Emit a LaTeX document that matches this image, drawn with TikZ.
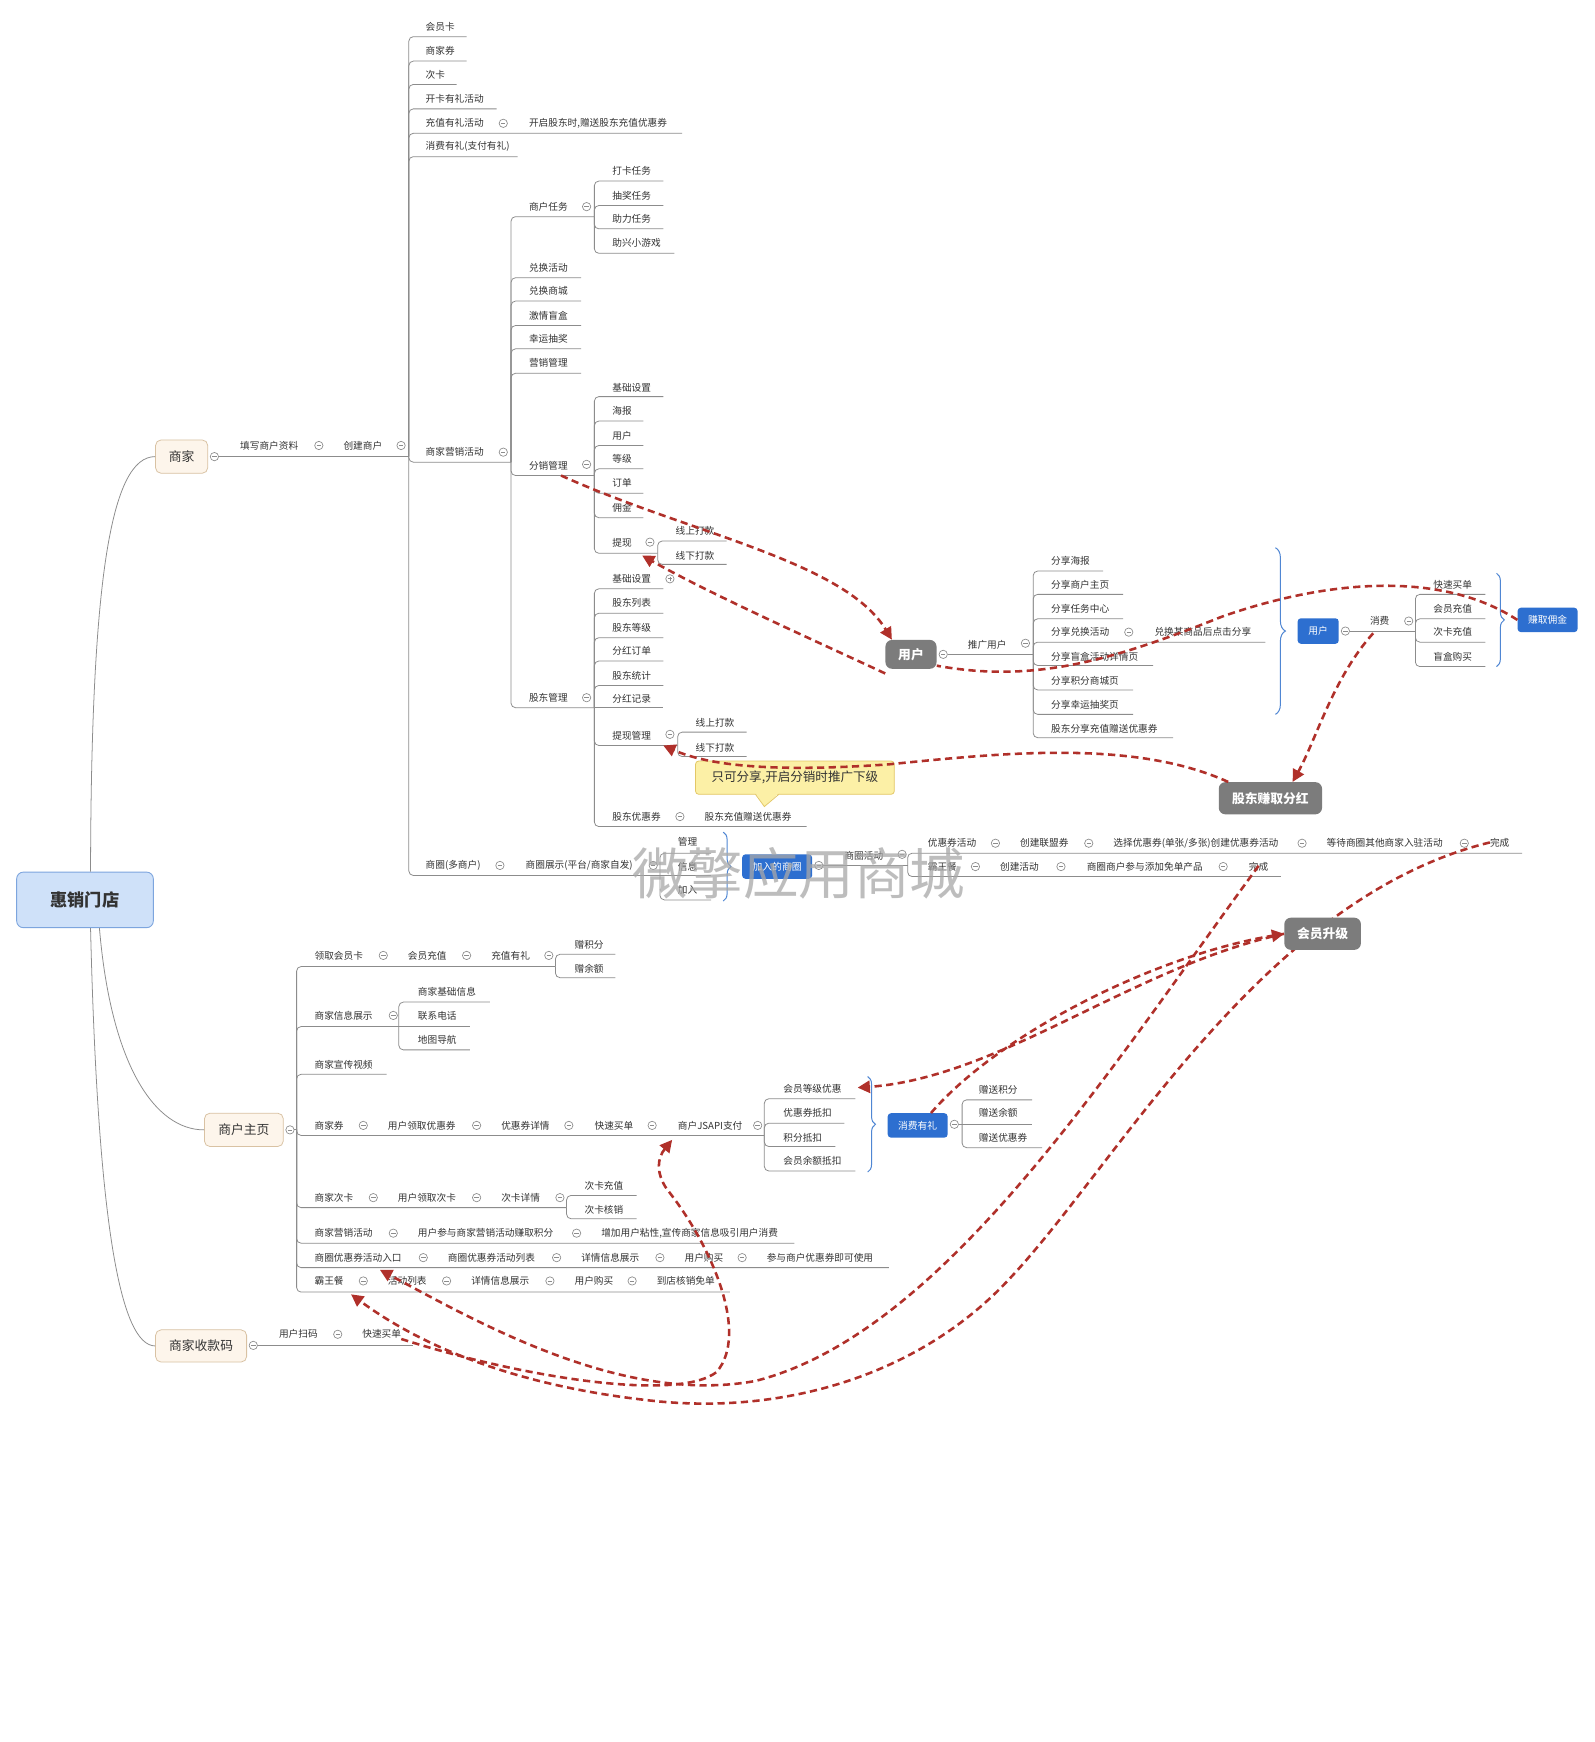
\documentclass[tikz,border=0pt]{standalone}
\usepackage{fontspec}
\newfontfamily\cjk{Noto Sans CJK SC}
\usetikzlibrary{arrows.meta,decorations.pathreplacing}
\definecolor{lnc}{HTML}{8C8C8C}
\definecolor{txc}{HTML}{333333}
\definecolor{relc}{HTML}{B0302A}
\definecolor{bluc}{HTML}{2D6FD0}
\definecolor{gryc}{HTML}{7C7C7C}
\definecolor{rootf}{HTML}{CFE1F9}
\definecolor{rootb}{HTML}{7DA5DE}
\definecolor{begf}{HTML}{FDF5EB}
\definecolor{begb}{HTML}{D9C2A3}
\definecolor{brc}{HTML}{4F86D3}
\definecolor{callf}{HTML}{FCF0A6}
\definecolor{callb}{HTML}{E3C766}
\definecolor{wmc}{HTML}{A8A8A8}
\tikzset{
 tp/.style={anchor=west, inner sep=0pt, font=\cjk\fontsize{8.7}{9}\selectfont, text=txc},
 cmin/.style={circle, draw=lnc, fill=white, minimum size=7.5pt, inner sep=0pt, line width=0.6pt,
   path picture={\draw[lnc,line width=0.6pt] ([xshift=-2pt]path picture bounding box.center) -- ([xshift=2pt]path picture bounding box.center);}},
 cplus/.style={circle, draw=lnc, fill=white, minimum size=7.5pt, inner sep=0pt, line width=0.6pt,
   path picture={\draw[lnc,line width=0.6pt] ([xshift=-2pt]path picture bounding box.center) -- ([xshift=2pt]path picture bounding box.center) ([yshift=-2pt]path picture bounding box.center) -- ([yshift=2pt]path picture bounding box.center);}},
 conn/.style={draw=lnc, line width=0.7pt, rounded corners=4pt},
 rootbox/.style={draw=rootb, fill=rootf, line width=0.8pt, rounded corners=6pt, minimum width=123pt, minimum height=50pt, inner sep=0pt, font=\cjk\bfseries\fontsize{15.5}{16}\selectfont, text=txc},
 mbox/.style={draw=begb, fill=begf, line width=0.7pt, rounded corners=5pt, minimum height=30pt, inner sep=0pt, font=\cjk\fontsize{11.5}{12}\selectfont, text=txc},
 gbox/.style={fill=gryc, rounded corners=6pt, minimum height=29pt, inner sep=0pt, font=\cjk\bfseries\fontsize{11.5}{12}\selectfont, text=white},
 bbox/.style={fill=bluc, rounded corners=3pt, minimum height=22pt, inner sep=0pt, font=\cjk\fontsize{8.8}{9}\selectfont, text=white},
 bracestyle/.style={draw=brc, line width=0.9pt, decorate, decoration={brace, amplitude=#1}},
 rel/.style={draw=relc, line width=2.3pt, dash pattern=on 6.5pt off 4pt},
 rela/.style={rel, -{Triangle[length=11pt,width=11pt]}},
}
\newcommand\tpc[3]{\node[tp] (#1) at #2 {#3};}
\newcommand\cmn[2]{\node[cmin] (#1) at #2 {};}
\newcommand\spn[3]{\foreach \yc/\xe in {#3}{\draw[conn] (#1,#2) -- (#1,\yc) -- (\xe,\yc);}}
\begin{document}
\begin{tikzpicture}[x=1pt,y=-1pt]
\useasboundingbox (0,0) rectangle (1435,1568);
\fill[white] (0,0) rectangle (1435,1568);

% ---------- main boxes ----------
\node[rootbox] (root) at (76.5,810) {惠销门店};
\node[mbox, minimum width=47pt] (sj) at (163.5,411) {商家};
\node[mbox, minimum width=71pt] (zy) at (219.5,1017) {商户主页};
\node[mbox, minimum width=82pt, minimum height=29pt] (sk) at (181,1211.5) {商家收款码};
\draw[lnc, line width=0.7pt] ([xshift=5pt]root.north) .. controls (82,520) and (100,411) .. (sj.west);
\draw[lnc, line width=0.7pt] ([xshift=13pt]root.south) .. controls (100,960) and (140,1017) .. (zy.west);
\draw[lnc, line width=0.7pt] ([xshift=5pt]root.south) .. controls (88,1100) and (108,1211) .. (sk.west);

% ---------- 商家 branch ----------
\cmn{csj}{(193,411)}
\draw[conn] (csj.east) -- (368,411);
\tpc{s1}{(216,401)}{填写商户资料} \cmn{cs1}{(287,401)}
\tpc{s2}{(309,401)}{创建商户} \cmn{cs2}{(361,401)}

\spn{368}{411}{33/420,55/420,76/411,98/447,120/614,141/466,416/460,788/594}
\tpc{a1}{(383,24)}{会员卡}
\tpc{a2}{(383,46)}{商家券}
\tpc{a3}{(383,67)}{次卡}
\tpc{a4}{(383,89)}{开卡有礼活动}
\tpc{a5}{(383,111)}{充值有礼活动} \cmn{ca5}{(453,111)}
\tpc{a5b}{(476,111)}{开启股东时,赠送股东充值优惠券}
\tpc{a6}{(383,132)}{消费有礼(支付有礼)}
\tpc{a7}{(383,407)}{商家营销活动} \cmn{ca7}{(453,407)}
\tpc{a8}{(383,779)}{商圈(多商户)} \cmn{ca8}{(450,779)}
\tpc{a8b}{(473,779)}{商圈展示(平台/商家自发)} \cmn{ca8b}{(588,779)}

\spn{460}{416}{195/535,250/523,271/523,293/523,314/523,336/523,428/535,637/535}
\tpc{b1}{(476,186)}{商户任务} \cmn{cb1}{(528,186)}
\tpc{b2}{(476,241)}{兑换活动}
\tpc{b3}{(476,262)}{兑换商城}
\tpc{b4}{(476,284)}{激情盲盒}
\tpc{b5}{(476,305)}{幸运抽奖}
\tpc{b6}{(476,327)}{营销管理}
\tpc{b7}{(476,419)}{分销管理} \cmn{cb7}{(528,418)}
\tpc{b8}{(476,628)}{股东管理} \cmn{cb8}{(528,628)}

\spn{535}{195}{163/597,185/597,206/597,228/607}
\tpc{c1}{(551,154)}{打卡任务}
\tpc{c2}{(551,176)}{抽奖任务}
\tpc{c3}{(551,197)}{助力任务}
\tpc{c4}{(551,219)}{助兴小游戏}

\spn{535}{428}{357/597,379/579,401/579,422/579,444/579,466/579,498/592}
\tpc{d1}{(551,349)}{基础设置}
\tpc{d2}{(551,370)}{海报}
\tpc{d3}{(551,392)}{用户}
\tpc{d4}{(551,413)}{等级}
\tpc{d5}{(551,435)}{订单}
\tpc{d6}{(551,457)}{佣金}
\tpc{d7}{(551,489)}{提现} \cmn{cd7}{(585,488)}

\spn{592}{498}{487/654,508/654}
\tpc{e1}{(608,478)}{线上打款}
\tpc{e2}{(608,500)}{线下打款}

\spn{535}{637}{530/597,552/597,574/597,595/597,617/597,671/610,744/726}
\draw[conn] (535,637) -- (597,637);
\tpc{f1}{(551,521)}{基础设置} \node[cplus] (cf1) at (603,521) {};
\tpc{f2}{(551,543)}{股东列表}
\tpc{f3}{(551,565)}{股东等级}
\tpc{f4}{(551,586)}{分红订单}
\tpc{f5}{(551,608)}{股东统计}
\tpc{f6}{(551,629)}{分红记录}
\tpc{f7}{(551,662)}{提现管理} \cmn{cf7}{(603,661)}
\tpc{f8}{(551,735)}{股东优惠券} \cmn{cf8}{(612,735)}
\tpc{f8b}{(634,735)}{股东充值赠送优惠券}

\spn{610}{671}{659/672,681/672}
\tpc{g1}{(626,651)}{线上打款}
\tpc{g2}{(626,673)}{线下打款}

% ---------- 商圈 ----------
\spn{594}{788}{768/640,810/640}
\draw[conn] (594,788) -- (640,788);
\tpc{h1}{(610,758)}{管理}
\tpc{h2}{(610,780)}{信息}
\tpc{h3}{(610,801)}{加入}
\draw[bracestyle=7pt] (651,749) -- (651,811);
\node[bbox, minimum width=63pt] (jr) at (699.5,780) {加入的商圈};
\cmn{cjr}{(737,779)}
\draw[conn] (cjr.east) -- (817,779);
\tpc{i0}{(760,770)}{商圈活动} \cmn{ci0}{(812,769)}
\spn{817}{779}{768/1370,789/1153}
\tpc{i1}{(835,759)}{优惠券活动} \cmn{ci1}{(896,759)}
\tpc{i2}{(918,759)}{创建联盟券} \cmn{ci2}{(980,759)}
\tpc{i3}{(1002,759)}{选择优惠券(单张/多张)创建优惠券活动} \cmn{ci3}{(1172,759)}
\tpc{i4}{(1194,759)}{等待商圈其他商家入驻活动} \cmn{ci4}{(1318,759)}
\tpc{i5}{(1341,759)}{完成}
\tpc{k1}{(835,780)}{霸王餐} \cmn{ck1}{(878,780)}
\tpc{k2}{(900,780)}{创建活动} \cmn{ck2}{(955,780)}
\tpc{k3}{(978,780)}{商圈商户参与添加免单产品} \cmn{ck3}{(1101,780)}
\tpc{k4}{(1124,780)}{完成}

% ---------- 用户 (推广) ----------
\node[gbox, minimum width=46pt, minimum height=26pt] (yh) at (820,589) {用户};
\cmn{cyh}{(849,589)}
\draw[conn] (cyh.east) -- (930,589);
\tpc{j0}{(871,580)}{推广用户} \cmn{cj0}{(923,579)}
\spn{930}{589}{514/993,535/1011,557/1011,578/1139,599/1038,621/1020,643/1020,664/1056}
\tpc{j1}{(946,505)}{分享海报}
\tpc{j2}{(946,526)}{分享商户主页}
\tpc{j3}{(946,548)}{分享任务中心}
\tpc{j4}{(946,569)}{分享兑换活动} \cmn{cj4}{(1016,569)}
\tpc{j4b}{(1039,569)}{兑换某商品后点击分享}
\tpc{j5}{(946,591)}{分享盲盒活动详情页}
\tpc{j6}{(946,613)}{分享积分商城页}
\tpc{j7}{(946,634)}{分享幸运抽奖页}
\tpc{j8}{(946,656)}{股东分享充值赠送优惠券}
\draw[bracestyle=9pt] (1148,493) -- (1148,643);
\node[bbox, minimum width=37pt, minimum height=23pt] (yb) at (1186.5,568) {用户};
\cmn{cyb}{(1211,568)}
\draw[conn] (cyb.east) -- (1274,568);
\tpc{l0}{(1233,559)}{消费} \cmn{cl0}{(1268,559)}
\spn{1274}{568}{535/1337,557/1337,578/1337,600/1337}
\tpc{l1}{(1290,526)}{快速买单}
\tpc{l2}{(1290,548)}{会员充值}
\tpc{l3}{(1290,569)}{次卡充值}
\tpc{l4}{(1290,591)}{盲盒购买}
\draw[bracestyle=7pt] (1347,516) -- (1347,600);
\node[bbox, minimum width=54pt] (zq) at (1393,558) {赚取佣金};

\node[gbox, minimum width=93pt] (gd) at (1143.5,718.5) {股东赚取分红};

% callout
\node[draw=callb, fill=callf, line width=0.7pt, rounded corners=3pt, minimum width=179pt, minimum height=30pt, inner sep=0pt, font=\cjk\fontsize{11.3}{12}\selectfont, text=txc] (co) at (715.5,700) {只可分享,开启分销时推广下级};
\path[fill=callf] (680,713.8) -- (688,726) -- (701,713.8) -- cycle;
\draw[callb, line width=0.7pt] (680,715) -- (688,726) -- (701,715);

% ---------- 商户主页 branch ----------
\cmn{czy}{(261,1017)}
\draw[conn] (czy.east) -- (267,1017);
\spn{267}{1017}{870/500,924/359,967/348,1022/688,1087/510,1119/715,1141/800,1163/657}
\tpc{m1}{(283,860)}{领取会员卡} \cmn{cm1}{(345,860)}
\tpc{m1b}{(367,860)}{会员充值} \cmn{cm1b}{(420,860)}
\tpc{m1c}{(442,860)}{充值有礼} \cmn{cm1c}{(494,860)}
\spn{500}{870}{859/554,880/554}
\tpc{n1}{(517,850)}{赠积分}
\tpc{n2}{(517,872)}{赠余额}
\tpc{m2}{(283,914)}{商家信息展示} \cmn{cm2}{(354,914)}
\spn{359}{924}{902/441,945/423}
\draw[conn] (359,924) -- (423,924);
\tpc{p1}{(376,893)}{商家基础信息}
\tpc{p2}{(376,914)}{联系电话}
\tpc{p3}{(376,936)}{地图导航}
\tpc{m3}{(283,958)}{商家宣传视频}
\tpc{m4}{(283,1013)}{商家券} \cmn{cm4}{(327,1013)}
\tpc{m4b}{(349,1013)}{用户领取优惠券} \cmn{cm4b}{(429,1013)}
\tpc{m4c}{(451,1013)}{优惠券详情} \cmn{cm4c}{(512,1013)}
\tpc{m4d}{(535,1013)}{快速买单} \cmn{cm4d}{(587,1013)}
\tpc{m4e}{(610,1013)}{商户JSAPI支付} \cmn{cm4e}{(682,1013)}
\spn{688}{1022}{989/770,1011/760,1032/752,1054/770}
\tpc{q1}{(705,980)}{会员等级优惠}
\tpc{q2}{(705,1002)}{优惠券抵扣}
\tpc{q3}{(705,1024)}{积分抵扣}
\tpc{q4}{(705,1045)}{会员余额抵扣}
\draw[bracestyle=7pt] (781,969) -- (781,1055);
\node[bbox, minimum width=54pt] (xf) at (826,1013) {消费有礼};
\cmn{cxf}{(859,1012)}
\draw[conn] (cxf.east) -- (866,1012);
\spn{866}{1012}{990/929,1033/938}
\draw[conn] (866,1012) -- (929,1012);
\tpc{r1}{(881,981)}{赠送积分}
\tpc{r2}{(881,1002)}{赠送余额}
\tpc{r3}{(881,1024)}{赠送优惠券}
\tpc{m5}{(283,1078)}{商家次卡} \cmn{cm5}{(336,1078)}
\tpc{m5b}{(358,1078)}{用户领取次卡} \cmn{cm5b}{(429,1078)}
\tpc{m5c}{(451,1078)}{次卡详情} \cmn{cm5c}{(504,1078)}
\spn{510}{1087}{1076/573,1097/573}
\tpc{t1}{(526,1067)}{次卡充值}
\tpc{t2}{(526,1089)}{次卡核销}
\tpc{m6}{(283,1110)}{商家营销活动} \cmn{cm6}{(354,1110)}
\tpc{m6b}{(376,1110)}{用户参与商家营销活动赚取积分} \cmn{cm6b}{(519,1110)}
\tpc{m6c}{(541,1110)}{增加用户粘性,宣传商家信息吸引用户消费}
\tpc{m7}{(283,1132)}{商圈优惠券活动入口} \cmn{cm7}{(381,1132)}
\tpc{m7b}{(403,1132)}{商圈优惠券活动列表} \cmn{cm7b}{(501,1132)}
\tpc{m7c}{(523,1132)}{详情信息展示} \cmn{cm7c}{(594,1132)}
\tpc{m7d}{(616,1132)}{用户购买} \cmn{cm7d}{(668,1132)}
\tpc{m7e}{(690,1132)}{参与商户优惠券即可使用}
\tpc{m8}{(283,1153)}{霸王餐} \cmn{cm8}{(327,1153)}
\tpc{m8b}{(349,1153)}{活动列表} \cmn{cm8b}{(402,1153)}
\tpc{m8c}{(424,1153)}{详情信息展示} \cmn{cm8c}{(495,1153)}
\tpc{m8d}{(517,1153)}{用户购买} \cmn{cm8d}{(569,1153)}
\tpc{m8e}{(591,1153)}{到店核销免单}

% ---------- 商家收款码 ----------
\cmn{csk}{(228,1211)}
\draw[conn] (csk.east) -- (372,1211);
\tpc{u1}{(251,1201)}{用户扫码} \cmn{cu1}{(304,1201)}
\tpc{u2}{(326,1201)}{快速买单}

% watermark
\node[font=\cjk\fontsize{50}{50}\selectfont, text=wmc, opacity=0.75] (wm) at (719,786) {微擎应用商城};

% ---------- relationships ----------
\draw[rela] (505,428) .. controls (620,480) and (760,505) .. ([xshift=6pt]yh.north west);
\draw[rela] ([yshift=-4pt]yh.south west) .. controls (730,575) and (640,535) .. (578,500);
\draw[rel] (zq.west) .. controls (1300,515) and (1200,520) .. (1100,555) .. controls (1000,595) and (930,615) .. ([yshift=3pt]yh.south east);
\draw[rela] ([xshift=-38pt]gd.north) .. controls (1020,665) and (900,678) .. (800,688) .. controls (700,695) and (640,690) .. (597,671);
\draw[rela] (1236,570) .. controls (1200,610) and (1185,665) .. ([xshift=20pt]gd.north);
% 完成 (霸王餐) -> 商圈优惠券活动入口
\draw[rela] ([yshift=5pt]k4.south) .. controls (1000,960) and (850,1200) .. (680,1243) .. controls (560,1265) and (430,1190) .. (342,1143);
% 完成 (优惠券活动) -> 霸王餐
\draw[rela] ([yshift=5pt]i5.south west) .. controls (1130,810) and (1000,1060) .. (900,1160) .. controls (820,1240) and (700,1275) .. (580,1260) .. controls (450,1245) and (370,1205) .. (316,1165);
% 快速买单 -> 商户JSAPI支付
\draw[rela] (u2.south east) .. controls (470,1240) and (610,1262) .. (645,1235) .. controls (675,1200) and (640,1120) .. (600,1070) .. controls (590,1055) and (592,1042) .. (605,1026);
\node[gbox, minimum width=69pt] (hy) at (1190.5,840.5) {会员升级};
\draw[rela] ([xshift=12pt]xf.north) .. controls (900,930) and (1040,860) .. (hy.west);
\draw[rela] (hy.west) .. controls (1020,870) and (900,970) .. (772,979);
\end{tikzpicture}
\end{document}
